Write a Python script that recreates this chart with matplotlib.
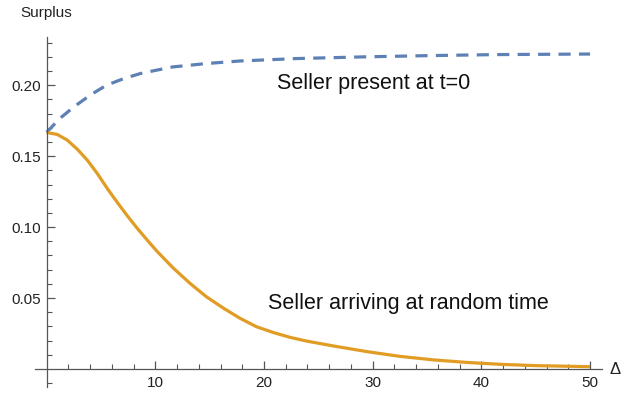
import matplotlib
matplotlib.use("Agg")
import matplotlib.pyplot as plt
from matplotlib.ticker import FixedLocator

plt.rcParams['font.family'] = ['Liberation Sans', 'DejaVu Sans']

# Surplus when the seller is present at t=0
delta_present = [0, 1.2, 2.5, 4.0, 5.5, 7.1, 8.6, 10.1, 11.6, 14.7, 17.8,
                 23.0, 29.2, 35.3, 41.4, 50.0]
surplus_present = [0.1668, 0.1765, 0.1847, 0.1930, 0.2000, 0.2047, 0.2082,
                   0.2106, 0.2129, 0.2153, 0.2171, 0.2188, 0.2200, 0.2209,
                   0.2216, 0.2220]

# Surplus when the seller arrives at a random time
delta_random = [0, 0.98, 1.90, 2.82, 3.74, 4.66, 5.58, 6.50, 7.42, 8.34,
                9.26, 10.15, 11.6, 13.2, 14.7, 16.3, 17.8, 19.3, 20.9, 22.4,
                23.9, 26.4, 29.5, 32.5, 35.6, 38.7, 41.7, 44.8, 50.0]
surplus_random = [0.1667, 0.1653, 0.1613, 0.1549, 0.1472, 0.1378, 0.1272,
                  0.1174, 0.1080, 0.0991, 0.0908, 0.0830, 0.0715, 0.0603,
                  0.0509, 0.0427, 0.0357, 0.0298, 0.0256, 0.0223, 0.0197,
                  0.0162, 0.0122, 0.0089, 0.0064, 0.0046, 0.0033, 0.0024,
                  0.0016]

x_major = [10, 20, 30, 40, 50]
y_major = [0.05, 0.10, 0.15, 0.20]
y_labels = ["0.05", "0.10", "0.15", "0.20"]

fig = plt.figure(figsize=(6.23, 3.95), dpi=100)
ax = fig.add_axes([34.7 / 623, 8 / 395, (602 - 34.7) / 623, (387 - 37) / 395])

blue = "#5E81B5"
orange = "#E19C24"

ax.plot(delta_present, surplus_present, color=blue, lw=2.3,
        dashes=(3.8, 2.6), dash_capstyle="butt")
ax.plot(delta_random, surplus_random, color=orange, lw=2.3,
        solid_capstyle="butt", solid_joinstyle="round")

ax.set_xlim(-1.1, 51.1)
ax.set_ylim(-0.0127, 0.234)

for side in ("top", "right"):
    ax.spines[side].set_visible(False)
ax.spines["left"].set_position(("data", 0))
ax.spines["bottom"].set_position(("data", 0))
for side in ("left", "bottom"):
    ax.spines[side].set_color("#555555")
    ax.spines[side].set_linewidth(0.9)

ax.xaxis.set_major_locator(FixedLocator(x_major))
ax.xaxis.set_minor_locator(FixedLocator([v for v in range(2, 51, 2) if v % 10]))
ax.yaxis.set_major_locator(FixedLocator(y_major))
ax.yaxis.set_minor_locator(FixedLocator([-0.01] + [round(0.01 * k, 2) for k in range(1, 24) if k % 5]))
ax.set_yticklabels(y_labels)

ax.tick_params(axis="both", which="major", direction="in", length=5.5,
               width=0.9, color="#555555", labelsize=11, labelcolor="#222222")
ax.tick_params(axis="both", which="minor", direction="in", length=3.5,
               width=0.8, color="#555555")
ax.tick_params(axis="x", which="major", pad=5)
ax.tick_params(axis="y", which="major", pad=4)

ax.patch.set_visible(False)

ax.text(21.2, 0.2014, "Seller present at t=0", fontsize=15.5, color="#111111",
        va="center", ha="left")
ax.text(20.4, 0.0465, "Seller arriving at random time", fontsize=15.5,
        color="#111111", va="center", ha="left")

fig.text(20 / 623, 1 - 13 / 395, "Surplus", fontsize=11, color="#222222",
         va="center", ha="left")
fig.text(610 / 623, 1 - 370 / 395, "Δ", fontsize=12, color="#222222",
         va="center", ha="left")

fig.savefig("out.png", dpi=100)
